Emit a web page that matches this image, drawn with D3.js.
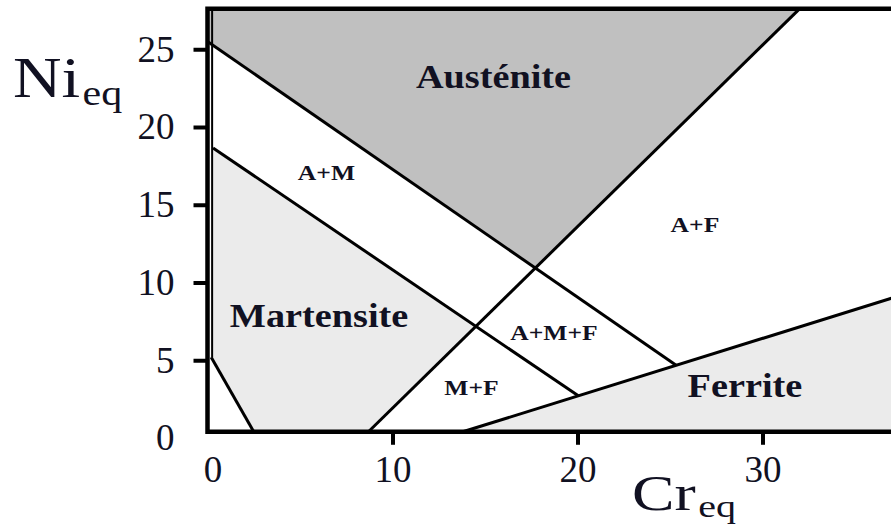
<!DOCTYPE html>
<html>
<head>
<meta charset="utf-8">
<script src="https://cdn.jsdelivr.net/npm/d3@7"></script>
<style>
  html, body { margin: 0; padding: 0; background: #fff; }
  svg { display: block; }
</style>
</head>
<body>
<svg id="chart" width="891" height="526"></svg>
<script>
// Schaeffler constitution diagram: Cr equivalent vs Ni equivalent

// Axis extent and ticks (wt.%)
const crExtent = [0, 37];
const niExtent = [0.4, 27.6];
const crTicks = [0, 10, 20, 30];
const niTicks = [0, 5, 10, 15, 20, 25];

// Phase boundaries, each given by two points [Cr, Ni]
const austeniteLine = [[0, 25.5], [25.3, 4.7]];
const gammaAlphaLine = [[8.7, 0.4], [32.0, 27.6]];
const martensiteLine = [[0.3, 18.65], [20.0, 2.75]];
const ferriteLine = [[13.8, 0.4], [37.0, 9.0]];
const cornerLine = [[0.2, 5.2], [2.5, 0.4]];
const leftEdgeLine = [[0.25, 5.2], [0.25, 27.6]];

// Region labels
const regionNames = ["Austénite", "Martensite", "Ferrite", "A+M", "A+F", "A+M+F", "M+F"];
const regionCr = [15.46, 6.03, 29.05, 6.43, 26.35, 18.73, 14.27];
const regionNi = [22.5, 7.14, 2.66, 16.6, 13.25, 6.3, 2.77];
const singlePhase = ["Austénite", "Martensite", "Ferrite"];

const svg = d3.select("#chart");

const x = d3.scaleLinear().domain([0, 30]).range([207.5, 762.5]);
const y = d3.scaleLinear().domain([0, 25]).range([438, 49.25]);

function intersect(a, b) {
  const [[x1, y1], [x2, y2]] = a;
  const [[x3, y3], [x4, y4]] = b;
  const d = (x1 - x2) * (y3 - y4) - (y1 - y2) * (x3 - x4);
  const t = ((x1 - x3) * (y3 - y4) - (y1 - y3) * (x3 - x4)) / d;
  return [x1 + t * (x2 - x1), y1 + t * (y2 - y1)];
}

const pAB = intersect(austeniteLine, gammaAlphaLine);
const pAF = intersect(austeniteLine, ferriteLine);
const pMB = intersect(martensiteLine, gammaAlphaLine);
const pMF = intersect(martensiteLine, ferriteLine);

const [crMin, crMax] = crExtent;
const [niMin, niMax] = niExtent;

const regions = [
  { fill: "#c0c0c0", pts: [[crMin, niMax], austeniteLine[0], pAB, gammaAlphaLine[1]] },
  { fill: "#ebebeb", pts: [martensiteLine[0], pMB, gammaAlphaLine[0], cornerLine[1], cornerLine[0], [leftEdgeLine[0][0], martensiteLine[0][1]]] },
  { fill: "#ebebeb", pts: [ferriteLine[0], ferriteLine[1], [crMax, niMin]] }
];

const line = d3.line().x(d => x(d[0])).y(d => y(d[1]));

svg.append("g").selectAll("path").data(regions).join("path")
  .attr("d", d => line(d.pts) + "Z")
  .attr("fill", d => d.fill)
  .attr("stroke", "none");

const segments = [
  { pts: [austeniteLine[0], pAF], w: 3 },
  { pts: gammaAlphaLine, w: 3 },
  { pts: [martensiteLine[0], pMF], w: 3 },
  { pts: ferriteLine, w: 3 },
  { pts: cornerLine, w: 3 },
  { pts: leftEdgeLine, w: 2 }
];

svg.append("g").selectAll("path").data(segments).join("path")
  .attr("d", d => line(d.pts))
  .attr("fill", "none")
  .attr("stroke", "#000")
  .attr("stroke-width", d => d.w);

// Frame: left, bottom and top edges
svg.append("path")
  .attr("d", line([[crMax, niMax], [crMin, niMax], [crMin, niMin], [crMax, niMin]]))
  .attr("fill", "none")
  .attr("stroke", "#000")
  .attr("stroke-width", 4.5)
  .attr("stroke-linecap", "square");

const textColor = "#111122";
const serif = "'Liberation Serif', 'Times New Roman', serif";

// Axes
const yAxis = svg.append("g")
  .attr("transform", `translate(${x(crMin)},0)`)
  .call(d3.axisLeft(y).tickValues(niTicks).tickSize(14).tickPadding(19));
const xAxis = svg.append("g")
  .attr("transform", `translate(0,${y(niMin)})`)
  .call(d3.axisBottom(x).tickValues(crTicks).tickSize(13).tickPadding(11));

[yAxis, xAxis].forEach(g => {
  g.select(".domain").remove();
  g.selectAll(".tick line").attr("stroke", "#000").attr("stroke-width", 4)
    .attr("opacity", d => d === 0 ? 0 : 1);
  g.selectAll(".tick text")
    .attr("fill", textColor)
    .style("font-family", serif)
    .style("font-size", "37px");
});
xAxis.selectAll(".tick text").attr("dx", d => d === 0 ? 5 : 0);

// Axis titles with "eq" subscripts
function title(main, sub, px, baseline, mainSize, subSize, stretch, subDy) {
  const g = svg.append("g").attr("transform", `translate(${px},${baseline}) scale(${stretch},1)`);
  const t = g.append("text")
    .attr("fill", textColor)
    .style("font-family", serif);
  t.append("tspan").style("font-size", mainSize + "px").text(main);
  t.append("tspan").style("font-size", subSize + "px").attr("dy", subDy).attr("dx", 2).text(sub);
}
title("Ni", "eq", 13, 97, 56, 35, 1.2, 8);
title("Cr", "eq", 632, 510, 51, 32, 1.25, 7);

// Region labels
svg.append("g").selectAll("g").data(regionNames).join("g")
  .attr("transform", (d, i) => {
    const major = singlePhase.includes(d);
    return `translate(${x(regionCr[i])},${y(regionNi[i])}) scale(${major ? 1.16 : 1.28},1)`;
  })
  .append("text")
  .attr("text-anchor", "middle")
  .attr("fill", textColor)
  .style("font-family", serif)
  .style("font-weight", "bold")
  .style("font-size", d => singlePhase.includes(d) ? "33px" : "20px")
  .text(d => d);
</script>
</body>
</html>
